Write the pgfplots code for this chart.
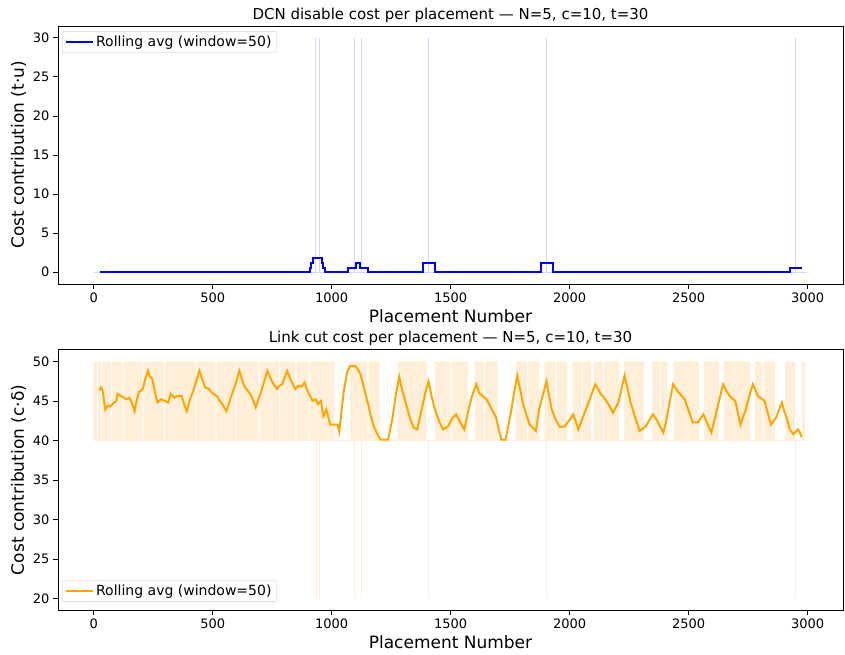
\documentclass[border=0pt]{standalone}
\usepackage{fontspec}
\setmainfont{DejaVu Sans}
\usepackage{pgfplots}
\pgfplotsset{compat=1.18}

\definecolor{rawblue}{RGB}{214,214,255}
\definecolor{rawor}{RGB}{255,239,217}
\definecolor{mplorange}{RGB}{255,165,0}
\definecolor{legframe}{RGB}{204,204,204}

\pgfplotsset{
  panel/.style={
    width=785pt, height=258pt, scale only axis,
    xmin=-150, xmax=3149,
    xtick={0,500,...,3000},
    tick align=outside, tick pos=left,
    major tick length=5pt,
    every tick/.style={black, line width=0.8pt},
    axis line style={line width=0.8pt},
    tick label style={font=\fontsize{13}{15}\selectfont},
    /pgf/number format/assume math mode=true,
    /pgf/number format/1000 sep={},
    label style={font=\fontsize{17}{20}\selectfont},
    title style={font=\fontsize{15}{18}\selectfont, at={(0.5,1)}, anchor=south, yshift=-6pt},
    xlabel={Placement Number},
    legend cell align=left,
    legend style={font=\fontsize{14}{16}\selectfont, draw=legframe, rounded corners=2pt,
      inner xsep=3pt, inner ysep=2.5pt},
    legend image code/.code={\draw[#1, line width=2pt] (0pt,0pt) -- (27pt,0pt);},
  }
}

\begin{document}
\begin{tikzpicture}
\path[use as bounding box] (0,0) rectangle (845pt,655pt);

% top panel: DCN disable cost
\begin{axis}[panel,
    at={(58pt,629pt)}, anchor=north west,
    ymin=-1.5, ymax=31.5,
    ytick={0,5,...,30},
    title={DCN disable cost per placement — N=5, c=10, t=30},
    ylabel={Cost contribution (t·u)},
    legend style={at={(0.005,0.98)}, anchor=north west},
]
% raw values
\addplot[rawblue, line width=1pt, forget plot] coordinates {
(0,0)(934,0)(934,30)(934,0)(947,0)(947,30)(947,0)(1094,0)(1094,30)(1094,0)
(1126,0)(1126,30)(1126,0)(1407,0)(1407,30)(1407,0)(1903,0)(1903,30)(1903,0)
(2951,0)(2951,30)(2951,0)(2999,0)
};
% rolling average
\addplot[blue, line width=2pt] coordinates {
(25,0)(909,0)(909,0.6)(912,0.6)(912,1.2)(922,1.2)(922,1.8)(959,1.8)(959,1.2)(962,1.2)
(962,0.6)(972,0.6)(972,0)(1069,0)(1069,0.6)(1101,0.6)(1101,1.2)(1119,1.2)(1119,0.6)
(1151,0.6)(1151,0)(1384,0)(1384,1.2)(1434,1.2)(1434,0)(1880,0)(1880,1.2)(1930,1.2)
(1930,0)(2926,0)(2926,0.6)(2975,0.6)
};
\addlegendentry{Rolling avg (window=50)}
\end{axis}

% bottom panel: link cut cost
\begin{axis}[panel,
    at={(58pt,305.5pt)}, anchor=north west,
    height=261pt,
    ymin=18.5, ymax=51.5,
    ytick={20,25,...,50},
    title={Link cut cost per placement — N=5, c=10, t=30},
    ylabel={Cost contribution (c·δ)},
    legend style={at={(0.005,0.033)}, anchor=south west},
]
% raw values alternating between 40 and 50 (dense stretches)
\addplot[const plot, draw=none, fill=rawor, forget plot] coordinates {
(0,40)(0,50)(13,40)(18,50)(30,40)(35,50)(72,40)(77,50)(121,40)(126,50)(205,40)
(210,50)(295,40)(300,50)(428,40)(433,50)(512,40)(517,50)(596,40)(601,50)(693,40)
(698,50)(778,40)(783,50)(848,40)(853,50)(903,40)(908,50)(1012,40)(1077,50)(1150,40)
(1155,50)(1202,40)(1277,50)(1399,40)(1433,50)(1500,40)(1505,50)(1572,40)(1600,50)
(1640,40)(1645,50)(1698,40)(1775,50)(1820,40)(1825,50)(1873,40)(1894,50)(1940,40)
(1945,50)(1991,40)(2012,50)(2050,40)(2055,50)(2089,40)(2103,50)(2140,40)(2145,50)
(2208,40)(2229,50)(2313,40)(2347,50)(2380,40)(2385,50)(2410,40)(2438,50)(2543,40)
(2564,50)(2627,40)(2648,50)(2759,40)(2780,50)(2810,40)(2815,50)(2864,40)(2906,50)
(2948,40)(2976,50)(2990,40)
};
\addplot[rawor, line width=1pt, forget plot] coordinates {
(0,40)(938,40)(938,20)(938,40)(947,40)(947,20)(947,40)(1094,40)(1094,20)(1094,40)
(1126,40)(1126,20)(1126,40)(1407,40)(1407,20)(1407,40)(1903,40)(1903,20)(1903,40)
(2951,40)(2951,20)(2951,40)(2999,40)
};
% rolling average
\addplot[mplorange, line width=2pt] coordinates {
(25,46.3)(30,46.7)(37,46.4)(49,43.9)(60,44.4)(70,44.3)(82,44.7)(95,45.0)(100,45.9)
(110,45.7)(127,45.4)(138,45.2)(149,45.4)(160,44.8)(172,43.7)(180,45.0)(190,46.1)
(206,46.5)(217,47.8)(228,48.8)(235,48.1)(246,47.8)(258,46.0)(268,44.8)(283,45.2)
(300,45.0)(313,44.8)(324,45.9)(340,45.4)(351,45.6)(370,45.6)(380,44.6)(391,43.7)
(405,45.2)(420,46.4)(432,47.6)(444,48.8)(455,47.8)(469,46.7)(485,46.5)(498,46.0)
(518,45.6)(530,45.0)(540,44.6)(558,43.7)(578,45.6)(595,47.0)(612,48.8)(625,47.5)
(636,46.7)(655,46.0)(663,45.6)(681,44.2)(703,46.1)(717,47.5)(730,48.8)(748,47.5)
(770,46.5)(780,46.9)(792,47.1)(813,48.8)(830,47.5)(848,46.5)(859,46.9)(873,46.8)
(886,47.3)(898,46.3)(920,45.0)(932,45.2)(943,44.6)(955,45.0)(965,43.1)(978,43.9)
(994,42.0)(1025,42.0)(1032,41.1)(1050,46.0)(1065,48.6)(1077,49.4)(1099,49.4)
(1110,49.0)(1121,48.4)(1138,46.4)(1155,44.4)(1165,43.0)(1177,41.8)(1192,40.8)
(1206,40.1)(1237,40.1)(1255,42.7)(1270,45.8)(1284,48.0)(1297,46.3)(1311,44.8)
(1328,42.9)(1345,41.6)(1360,41.4)(1378,43.9)(1392,45.8)(1407,47.5)(1420,45.6)
(1434,43.9)(1452,42.4)(1468,41.4)(1480,41.6)(1490,41.8)(1505,42.7)(1523,43.3)
(1535,42.6)(1557,41.4)(1568,42.8)(1579,44.4)(1594,46.0)(1608,47.1)(1620,46.0)
(1635,45.6)(1651,45.2)(1665,44.4)(1691,42.9)(1703,41.3)(1713,40.1)(1731,40.1)
(1753,43.5)(1767,46.1)(1780,48.2)(1792,46.5)(1803,44.8)(1818,43.3)(1832,42.0)
(1858,41.2)(1872,43.9)(1888,45.8)(1903,47.5)(1914,45.6)(1925,43.9)(1942,42.6)
(1959,41.7)(1980,41.8)(2000,42.6)(2015,43.3)(2026,42.4)(2037,41.4)(2058,43.1)
(2082,45.0)(2108,47.1)(2120,46.5)(2131,45.9)(2150,45.2)(2167,44.4)(2182,43.5)
(2205,44.8)(2218,46.5)(2231,48.2)(2244,46.5)(2256,44.8)(2275,43.0)(2294,41.2)
(2321,41.8)(2337,42.7)(2350,43.3)(2368,42.5)(2394,41.0)(2405,42.3)(2420,44.8)
(2435,47.1)(2457,46.1)(2484,45.2)(2500,43.8)(2517,42.3)(2540,42.3)(2562,43.3)
(2584,41.8)(2596,41.0)(2620,44.0)(2645,47.1)(2660,46.2)(2674,45.6)(2696,45.0)
(2718,42.0)(2740,43.9)(2755,45.6)(2770,47.1)(2792,45.6)(2819,45.0)(2846,42.0)
(2868,42.9)(2892,44.8)(2903,43.6)(2914,42.7)(2925,41.4)(2941,40.8)(2959,41.4)
(2968,41.0)(2975,40.4)
};
\addlegendentry{Rolling avg (window=50)}
\end{axis}
\end{tikzpicture}
\end{document}
